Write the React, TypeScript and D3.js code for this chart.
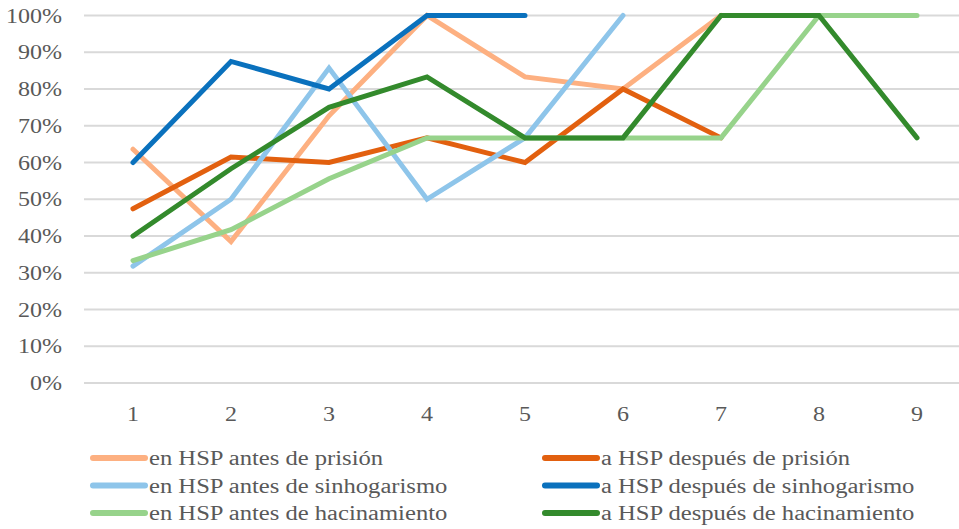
import React, { useEffect, useRef } from 'react';
import * as d3 from 'd3';

// categories on the x axis
const categories = [1, 2, 3, 4, 5, 6, 7, 8, 9];
const yTicks = [0, 0.1, 0.2, 0.3, 0.4, 0.5, 0.6, 0.7, 0.8, 0.9, 1];

// series values (null = no value)
const enPrision = [0.636, 0.385, 0.727, 1, 0.833, 0.8, 1, null, null];
const aPrision = [0.474, 0.615, 0.6, 0.667, 0.6, 0.8, 0.667, null, null];
const enSinhog = [0.318, 0.5, 0.857, 0.5, 0.667, 1, null, null, null];
const aSinhog = [0.6, 0.875, 0.8, 1, 1, null, null, null, null];
const enHacin = [0.333, 0.417, 0.556, 0.667, 0.667, 0.667, 0.667, 1, 1];
const aHacin = [0.4, 0.583, 0.75, 0.833, 0.667, 0.667, 1, 1, 0.667];

const seriesNames = [
  'en HSP antes de prisión',
  'a HSP después de prisión',
  'en HSP antes de sinhogarismo',
  'a HSP después de sinhogarismo',
  'en HSP antes de hacinamiento',
  'a HSP después de hacinamiento',
];
const seriesValues = [enPrision, aPrision, enSinhog, aSinhog, enHacin, aHacin];
const seriesColors = ['#fdb081', '#e2600f', '#8ec5ea', '#0a71bd', '#97d38b', '#338a2c'];

const TEXT = '#595959';
const FAMILY = "'Liberation Serif', 'Times New Roman', serif";

export default function App() {
  const svgRef = useRef<SVGSVGElement>(null);

  useEffect(() => {
    document.body.style.margin = '0';
    document.body.style.overflow = 'hidden';
    // the reference text is stretched horizontally
    svgRef.current?.querySelectorAll<SVGTextElement>('text[data-sx]').forEach(t => {
      if (t.dataset.done) return;
      t.dataset.done = '1';
      const sx = Number(t.dataset.sx);
      t.setAttribute('textLength', String(t.getComputedTextLength() * sx));
      t.setAttribute('lengthAdjust', 'spacingAndGlyphs');
    });
  }, []);

  const x = d3.scalePoint<number>().domain(categories).range([133, 917]);
  const y = d3.scaleLinear().domain([0, 1]).range([383, 15.5]);

  const line = d3.line<number | null>()
    .defined(d => d != null)
    .x((_, i) => x(categories[i]) as number)
    .y(d => y(d as number));

  const pct = d3.format('.0%');

  return (
    <svg ref={svgRef} width={959} height={529} style={{ display: 'block', background: '#fff' }}
      fontFamily={FAMILY} fontSize={20}>
      {/* gridlines */}
      {yTicks.map(t => (
        <line key={t} x1={84} x2={959} y1={y(t)} y2={y(t)} stroke="#d9d9d9" strokeWidth={1.8} />
      ))}

      {/* y labels */}
      {yTicks.map(t => (
        <text data-sx="1.2" key={t} x={62} y={y(t) + 7} textAnchor="end" fill={TEXT}>
          {pct(t)}
        </text>
      ))}

      {/* x labels */}
      {categories.map(c => (
        <text data-sx="1.2" key={c} x={x(c)} y={421} textAnchor="middle" fill={TEXT}>
          {c}
        </text>
      ))}

      {/* series */}
      {seriesValues.map((vals, i) => (
        <path key={i} d={line(vals) || ''} fill="none" stroke={seriesColors[i]} strokeWidth={5} strokeLinecap="round" />
      ))}

      {/* legend */}
      {seriesNames.map((name, i) => {
        const col = i % 2;
        const row = Math.floor(i / 2);
        const lx = col === 0 ? 90 : 542;
        const ly = 458 + row * 27.5;
        return (
          <g key={name}>
            <line x1={lx + 3} x2={lx + 55} y1={ly} y2={ly} stroke={seriesColors[i]} strokeWidth={6} strokeLinecap="round" />
            <text data-sx="1.23" x={lx + 59} y={ly + 7} fill={TEXT}>
              {name}
            </text>
          </g>
        );
      })}
    </svg>
  );
}
